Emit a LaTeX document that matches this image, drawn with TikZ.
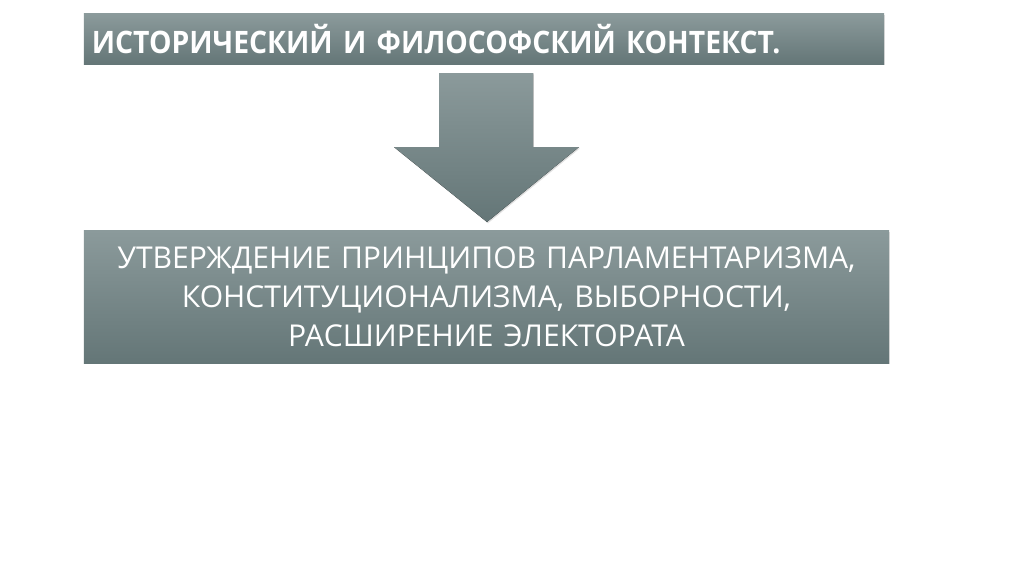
\documentclass[tikz,border=0pt]{standalone}
\usepackage{fontspec}
\setmainfont{Open Sans}
\newfontfamily\titlefont{Open Sans}[FakeStretch=0.915]
\usetikzlibrary{shadows}
\definecolor{boxtop}{RGB}{139,154,155}
\definecolor{boxbot}{RGB}{100,118,119}
\tikzset{
  greybox/.style={top color=boxtop, bottom color=boxbot, draw=none, text=white,
    inner sep=0pt, drop shadow={opacity=0.25, shadow xshift=0.7pt, shadow yshift=-0.9pt}},
}
\begin{document}
\begin{tikzpicture}[x=0.025cm,y=-0.025cm]
  \useasboundingbox[fill=white] (0,0) rectangle (1024,574);
  % title bar
  \node[greybox, minimum width=20cm, minimum height=1.25cm, text width=19.6cm, align=left,
        font=\titlefont\bfseries\fontsize{22}{26}\selectfont] (title) at (484,39)
        {ИСТОРИЧЕСКИЙ И ФИЛОСОФСКИЙ КОНТЕКСТ.};
  % block arrow
  \fill[top color=boxtop, bottom color=boxbot, drop shadow={opacity=0.25, shadow xshift=0.7pt, shadow yshift=-0.9pt}]
    (439,73) -- (533,73) -- (533,147) -- (579,147) -- (487,222) -- (394,147) -- (439,147) -- cycle;
  % result box
  \node[greybox, minimum width=20.125cm, minimum height=3.3cm, text width=19.8cm, align=center,
        font=\fontsize{21.4}{27.7}\selectfont] (result) at (486.5,297)
        {УТВЕРЖДЕНИЕ ПРИНЦИПОВ ПАРЛАМЕНТАРИЗМА,\\ КОНСТИТУЦИОНАЛИЗМА, ВЫБОРНОСТИ,\\ РАСШИРЕНИЕ ЭЛЕКТОРАТА};
\end{tikzpicture}
\end{document}
